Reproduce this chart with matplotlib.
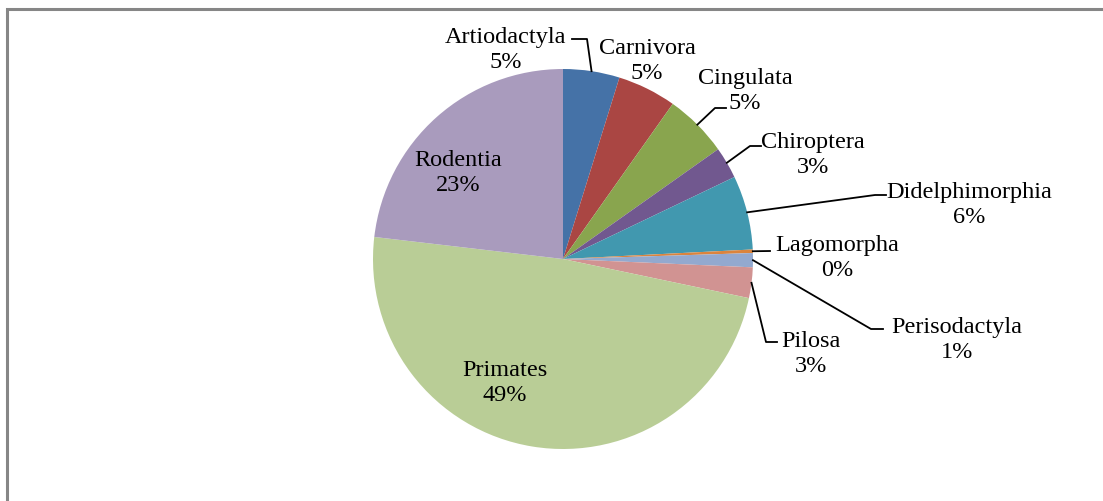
import matplotlib.pyplot as plt
import numpy as np

orders = ['Artiodactyla', 'Carnivora', 'Cingulata', 'Chiroptera', 'Didelphimorphia',
          'Lagomorpha', 'Perisodactyla', 'Pilosa', 'Primates', 'Rodentia']
shares = [4.8, 5.0, 5.4, 2.7, 6.3, 0.3, 1.2, 2.6, 48.55, 23.15]
colors = ['#4572A7', '#AA4643', '#89A54E', '#71588F', '#4198AF',
          '#DB843D', '#93A9CF', '#D19392', '#B9CD96', '#A99BBD']

# label centres and leader elbows in pixel coords (y down), None = no leader
label_xy = [(506, 50), (647, 61), (745, 91), (813, 155), (969, 205),
            (837, 258), (957, 340), (811, 354), (505, 383), (458, 173)]
elbows = [[(587, 40), (572, 40)], None, [(715, 109), (726, 109)],
          [(750, 147), (761, 147)], [(875, 196), (886, 196)],
          [(770, 252)], [(871, 330), (883, 330)], [(766, 343), (777, 343)],
          None, None]

W, H = 1103, 502
CX, CY, R = 563, 260, 190

plt.rcParams['font.family'] = ['Liberation Serif', 'DejaVu Serif']

fig = plt.figure(figsize=(W / 100, H / 100), dpi=100)
ax = fig.add_axes([0, 0, 1, 1])

wedges, _ = ax.pie(shares, colors=colors, startangle=90, counterclock=False,
                   center=(CX, H - CY), radius=R)
ax.set_xlim(0, W)
ax.set_ylim(0, H)
ax.set_aspect('auto')
ax.axis('off')

# chart frame (cut by the image edges)
ax.plot([7, 7, W + 5], [-5, H - 10, H - 10], color='#868686', lw=2.2,
        solid_joinstyle='miter')

total = sum(shares)
for i, w in enumerate(wedges):
    pct = int(np.floor(shares[i] / total * 100 + 0.5))
    lx, ly = label_xy[i]
    ax.text(lx, H - ly, f'{orders[i]}\n{pct}%', ha='center', va='center',
            fontsize=17.5, linespacing=1.3, color='black')
    if elbows[i] is not None:
        mid = np.deg2rad((w.theta1 + w.theta2) / 2)
        px = CX + R * np.cos(mid)
        py = H - CY + R * np.sin(mid)
        xs = [px] + [p[0] for p in elbows[i]]
        ys = [py] + [H - p[1] for p in elbows[i]]
        ax.plot(xs, ys, color='black', lw=1.3)

fig.savefig('out.png', dpi=100)
